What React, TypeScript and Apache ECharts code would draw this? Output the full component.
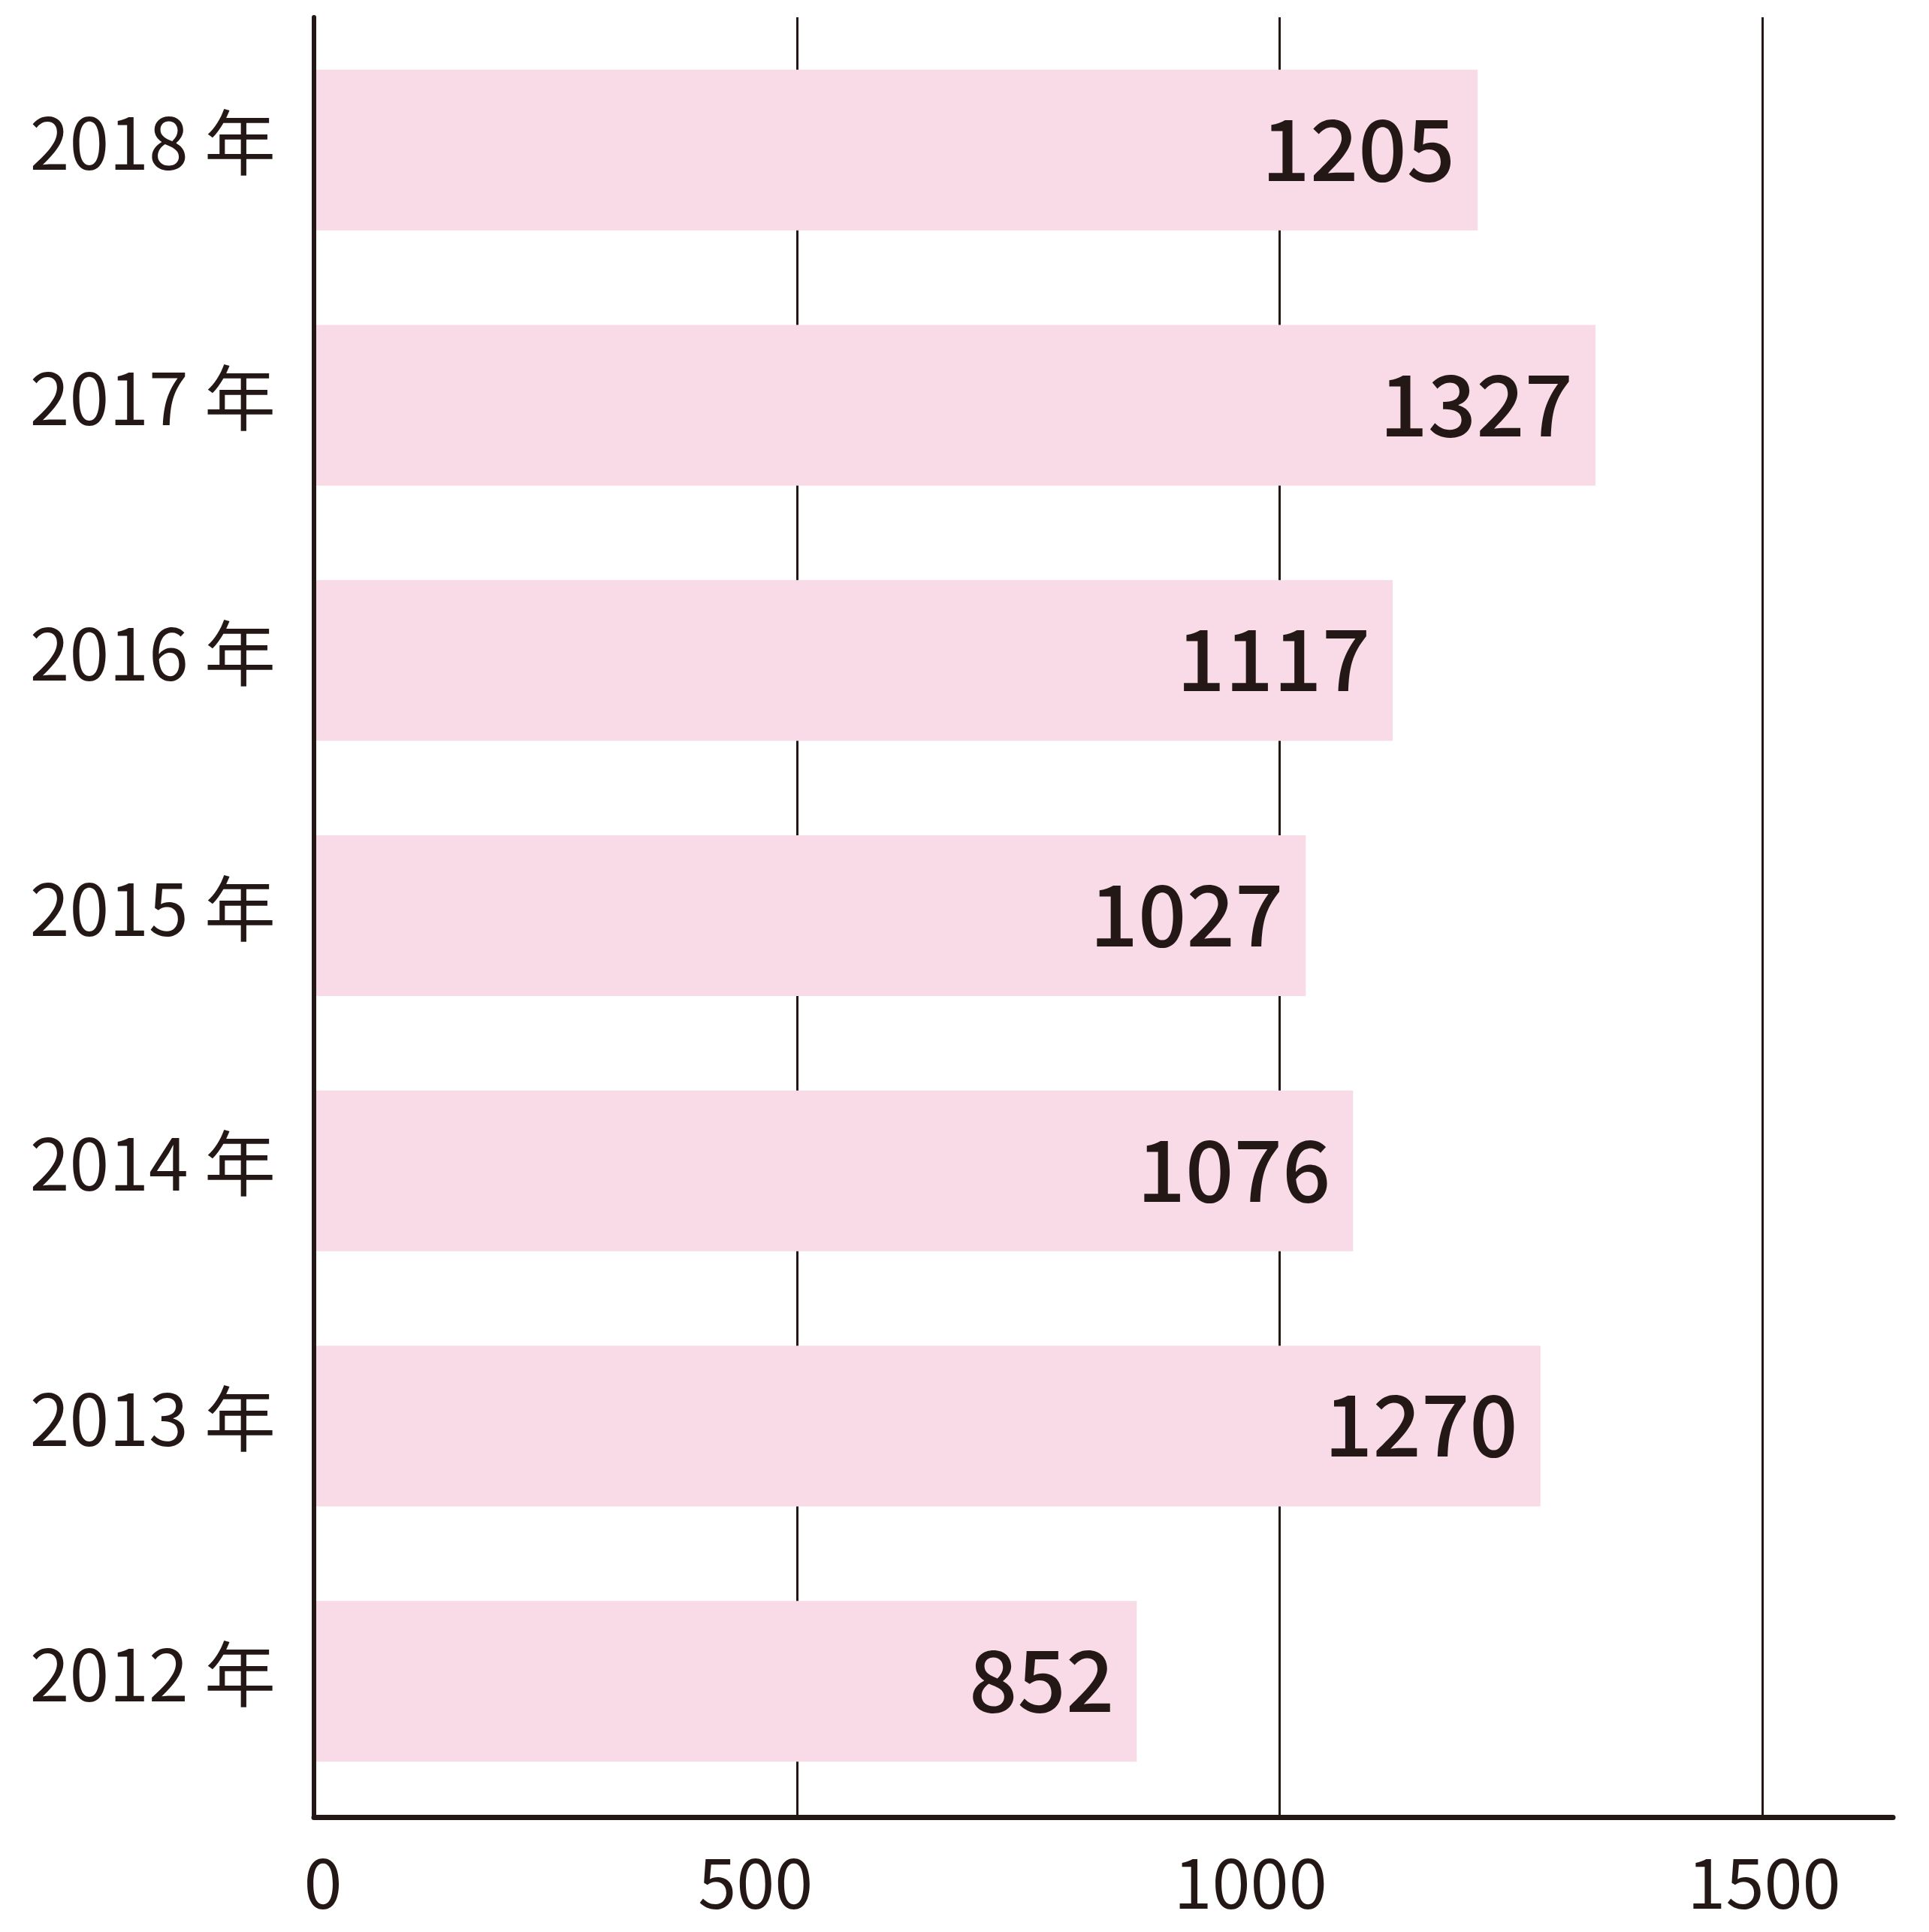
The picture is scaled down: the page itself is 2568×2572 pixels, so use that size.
import React, { useEffect, useRef } from "react";
import * as echarts from "echarts";

const categories = ["2018 年", "2017 年", "2016 年", "2015 年", "2014 年", "2013 年", "2012 年"];
const values = [1205, 1327, 1117, 1027, 1076, 1270, 852];
const xTicks = [0, 500, 1000, 1500];

const INK = "#231815";
const FONT = "'Noto Sans CJK JP', sans-serif";

export default function App() {
  const ref = useRef<HTMLDivElement>(null);
  useEffect(() => {
    if (!ref.current) return;
    const chart = echarts.init(ref.current, null, { renderer: "svg" });
    const tok = (pad: number[]) => ({ fontSize: 92, lineHeight: 92, fontFamily: FONT, color: INK, padding: pad });
    chart.setOption({
      animation: false,
      backgroundColor: "#ffffff",
      grid: [
        { left: 418, top: 30, width: 2102, height: 2378 },
        { left: 418, top: 23, width: 2102, height: 2396 },
      ],
      xAxis: [
        { gridIndex: 0, type: "value", min: 0, max: 1635, show: false },
        {
          gridIndex: 1,
          type: "value",
          min: 0,
          max: 1635,
          interval: 500,
          axisLine: { show: true, lineStyle: { color: INK, width: 7 } },
          axisTick: { show: false },
          splitLine: { show: true, showMinLine: false, showMaxLine: false, lineStyle: { color: INK, width: 3 } },
          axisLabel: {
            margin: 35,
            showMaxLabel: false,
            color: INK,
            fontFamily: FONT,
            fontSize: 92,
            lineHeight: 92,
            formatter: (v: number) => {
              const i = xTicks.indexOf(v);
              return i < 0 ? "" : `{t${i}|${v}}`;
            },
            rich: {
              t0: tok([0, 0, 0, 24]),
              t1: tok([0, 110, 0, 0]),
              t2: tok([0, 78, 0, 0]),
              t3: tok([0, 0, 0, 4]),
            },
          },
        },
      ],
      yAxis: [
        {
          gridIndex: 0,
          type: "category",
          data: categories,
          inverse: true,
          axisLine: { show: false },
          axisTick: { show: false },
          axisLabel: {
            margin: 51,
            color: INK,
            fontFamily: FONT,
            fontSize: 95,
            formatter: (v: string) => `{a|${v}}\n{s| }`,
            rich: {
              a: { fontSize: 95, lineHeight: 110, fontFamily: FONT, color: INK },
              s: { fontSize: 10, lineHeight: 30 },
            },
          },
        },
        {
          gridIndex: 1,
          type: "value",
          min: 0,
          max: 1,
          z: 5,
          axisLine: { show: true, lineStyle: { color: INK, width: 6 } },
          axisTick: { show: false },
          axisLabel: { show: false },
          splitLine: { show: false },
        },
      ],
      series: [
        {
          type: "bar",
          xAxisIndex: 0,
          yAxisIndex: 0,
          data: values,
          barWidth: 214,
          itemStyle: { color: "#f8dbe6" },
          label: {
            show: true,
            position: "insideRight",
            distance: 30,
            offset: [0, -8],
            color: INK,
            fontFamily: FONT,
            fontWeight: 500,
            fontSize: 113,
          },
        },
      ],
    });
    return () => chart.dispose();
  }, []);
  return (
    <div
      ref={ref}
      style={{ position: "fixed", left: 0, top: 0, width: 2568, height: 2572 }}
    />
  );
}
